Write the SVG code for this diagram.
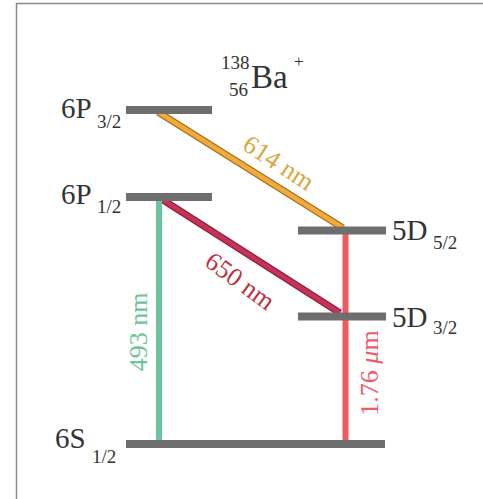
<svg xmlns="http://www.w3.org/2000/svg" width="483" height="499" viewBox="0 0 483 499">
<style>
.lvl{stroke:#6e6e6e;stroke-width:8;}
.lbl{font-family:"Liberation Serif","Times New Roman",serif;fill:#333;}
.big{font-size:29px;}
.sub{font-size:19px;}
.tr{font-family:"Liberation Serif","Times New Roman",serif;font-size:26px;}
</style>
<rect x="0" y="0" width="483" height="499" fill="#fff"/>
<path d="M16.5,499 V3.5 H483" fill="none" stroke="#8a8a8a" stroke-width="1.5"/>
<g id="connectors" fill="none" stroke-linecap="butt">
<line x1="158" y1="112" x2="343" y2="228" stroke="#a07020" stroke-width="7"/>
<line x1="158" y1="112" x2="343" y2="228" stroke="#f2aa3a" stroke-width="4.5"/>
<line x1="163" y1="200" x2="340" y2="313" stroke="#8a1f3a" stroke-width="7"/>
<line x1="163" y1="200" x2="340" y2="313" stroke="#c63258" stroke-width="4.5"/>
<line x1="159" y1="200" x2="159" y2="441" stroke="#6cc49c" stroke-width="6"/>
<line x1="345.5" y1="233" x2="345.5" y2="441" stroke="#f05a5e" stroke-width="6"/>
</g>
<g id="title">
<text class="lbl" x="221" y="69" font-size="19">138</text>
<text class="lbl" x="229" y="96" font-size="19">56</text>
<text class="lbl" x="251" y="88" font-size="33">Ba</text>
<text class="lbl" x="294" y="67" font-size="17">+</text>
</g>
<g id="n6P32">
<line class="lvl" x1="126" y1="110" x2="212" y2="110"/>
<text class="lbl big" x="61" y="118">6P</text>
<text class="lbl sub" x="97" y="128">3/2</text>
</g>
<g id="n6P12">
<line class="lvl" x1="126" y1="197" x2="212" y2="197"/>
<text class="lbl big" x="61" y="204">6P</text>
<text class="lbl sub" x="97" y="213">1/2</text>
</g>
<g id="n5D52">
<line class="lvl" x1="298" y1="230.5" x2="386" y2="230.5"/>
<text class="lbl big" x="392" y="240">5D</text>
<text class="lbl sub" x="433" y="249">5/2</text>
</g>
<g id="n5D32">
<line class="lvl" x1="298" y1="316.5" x2="386" y2="316.5"/>
<text class="lbl big" x="392" y="327">5D</text>
<text class="lbl sub" x="433" y="334">3/2</text>
</g>
<g id="n6S12">
<line class="lvl" x1="126" y1="444" x2="385" y2="444"/>
<text class="lbl big" x="55" y="448">6S</text>
<text class="lbl sub" x="92" y="463">1/2</text>
</g>
<g id="labels">
<text class="tr" fill="#d9a640" text-anchor="middle" transform="translate(274,170) rotate(33)">614 nm</text>
<text class="tr" fill="#c0303e" text-anchor="middle" transform="translate(235,288) rotate(36)">650 nm</text>
<text class="tr" fill="#6cc49c" text-anchor="middle" transform="translate(147,332) rotate(-90)">493 nm</text>
<text class="tr" fill="#f05a6a" text-anchor="middle" transform="translate(378,373) rotate(-90)">1.76 <tspan font-style="italic">μ</tspan>m</text>
</g>
</svg>
